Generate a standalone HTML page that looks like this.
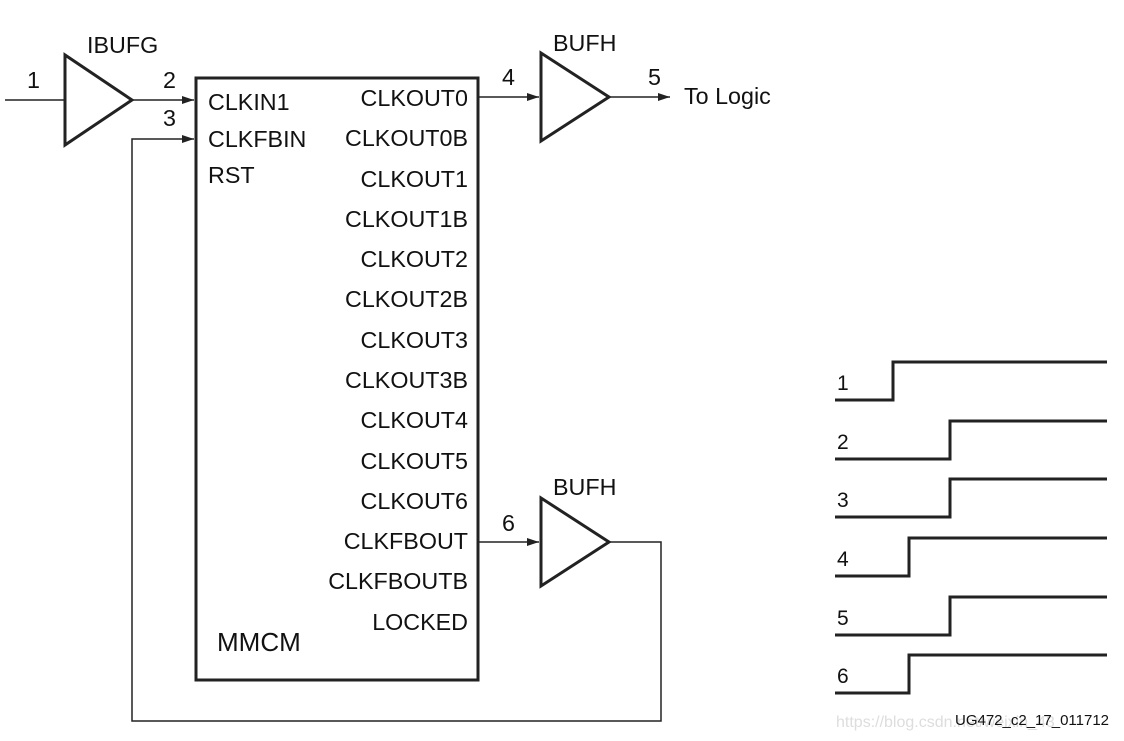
<!DOCTYPE html>
<html><head><meta charset="utf-8"><style>body{margin:0;background:#fff}svg{display:block}text{font-family:"Liberation Sans",sans-serif;fill:#111}</style></head>
<body>
<svg width="1124" height="741" viewBox="0 0 1124 741" xmlns="http://www.w3.org/2000/svg">
<defs><marker id="a" markerWidth="12" markerHeight="8" refX="12" refY="4" orient="auto" markerUnits="userSpaceOnUse"><path d="M0,0L12,4L0,8z" fill="#222"/></marker></defs>
<g fill="none" stroke="#222">
<rect x="196" y="78" width="282" height="602" stroke-width="3"/>
<path d="M65,55L65,145L132,100Z" stroke-width="3"/>
<path d="M541,53L541,141L609,97Z" stroke-width="3"/>
<path d="M541,498L541,586L609,542Z" stroke-width="3"/>
<g stroke-width="1.5">
<path d="M5,100H65"/>
<path d="M132,100H194" marker-end="url(#a)"/>
<path d="M478,97H539" marker-end="url(#a)"/>
<path d="M609,97H670" marker-end="url(#a)"/>
<path d="M478,542H539" marker-end="url(#a)"/>
<path d="M609,542H661V721H132V139H194" marker-end="url(#a)"/>
</g>
<g stroke-width="3">
<path d="M835,400H893V362H1107"/>
<path d="M835,459H950V421H1107"/>
<path d="M835,517H950V479H1107"/>
<path d="M835,576H909V538H1107"/>
<path d="M835,635H950V597H1107"/>
<path d="M835,693H909V655H1107"/>
</g></g>
<g font-size="23.3">
<text x="87" y="53">IBUFG</text>
<text x="27" y="88">1</text><text x="163" y="88">2</text><text x="163" y="126">3</text>
<text x="553" y="51">BUFH</text><text x="553" y="495">BUFH</text>
<text x="502" y="85">4</text><text x="648" y="85">5</text><text x="502" y="531">6</text>
<text x="684" y="104">To Logic</text>
<text x="208" y="110">CLKIN1</text><text x="208" y="147">CLKFBIN</text><text x="208" y="183">RST</text>
<g text-anchor="end">
<text x="468" y="106">CLKOUT0</text><text x="468" y="146">CLKOUT0B</text><text x="468" y="187">CLKOUT1</text><text x="468" y="227">CLKOUT1B</text>
<text x="468" y="267">CLKOUT2</text><text x="468" y="307">CLKOUT2B</text><text x="468" y="348">CLKOUT3</text><text x="468" y="388">CLKOUT3B</text>
<text x="468" y="428">CLKOUT4</text><text x="468" y="469">CLKOUT5</text><text x="468" y="509">CLKOUT6</text><text x="468" y="549">CLKFBOUT</text>
<text x="468" y="589">CLKFBOUTB</text><text x="468" y="630">LOCKED</text></g>
<text x="217" y="651" font-size="26">MMCM</text>
<g font-size="21">
<text x="837" y="390">1</text><text x="837" y="449">2</text><text x="837" y="507">3</text><text x="837" y="566">4</text><text x="837" y="625">5</text><text x="837" y="683">6</text>
</g></g>
<text x="836" y="727" font-size="16" style="fill:#ddd">https://blog.csdn.net/weixin_43</text>
<text x="955" y="725" font-size="15">UG472_c2_17_011712</text>
</svg>
</body></html>
